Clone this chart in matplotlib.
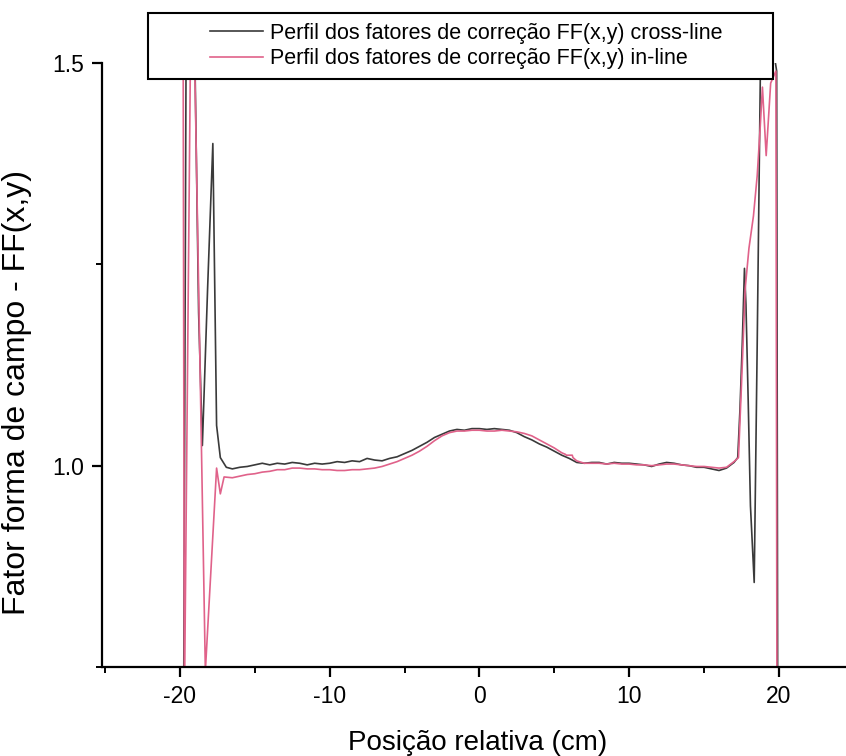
import matplotlib
matplotlib.use("Agg")
import matplotlib.pyplot as plt
from matplotlib.ticker import FixedLocator
from matplotlib.patches import Rectangle

plt.rcParams['font.family'] = ['Liberation Sans', 'DejaVu Sans']

# Perfil cross-line (posição em cm, fator FF)
cross_x = [-19.75, -19.55, -19.3, -19.15, -18.75, -18.5, -18.15, -17.8, -17.55, -17.3,
           -16.9, -16.5, -16.0, -15.5, -15.0, -14.5, -14.0, -13.5, -13.0, -12.5,
           -12.0, -11.5, -11.0, -10.5, -10.0, -9.5, -9.0, -8.5, -8.0, -7.5,
           -7.0, -6.5, -6.0, -5.5, -5.0, -4.5, -4.0, -3.5, -3.0, -2.5,
           -2.0, -1.5, -1.0, -0.5, 0.0, 0.5, 1.0, 1.5, 2.0, 2.5,
           3.0, 3.5, 4.0, 4.5, 5.0, 5.5, 6.0, 6.5, 7.0, 7.5,
           8.0, 8.5, 9.0, 9.5, 10.0, 10.5, 11.0, 11.5, 12.0, 12.5,
           13.0, 13.5, 14.0, 14.5, 15.0, 15.5, 16.0, 16.5, 17.0, 17.25,
           17.4, 17.55, 17.7, 17.8, 17.95, 18.1, 18.35, 18.55, 18.8, 19.0,
           19.3, 19.6, 19.85, 19.92]
cross_y = [0.70, 1.70, 1.55, 1.70, 1.19, 1.025, 1.22, 1.40, 1.05, 1.01,
           0.998, 0.996, 0.998, 0.999, 1.001, 1.003, 1.001, 1.003, 1.002, 1.004,
           1.003, 1.001, 1.003, 1.002, 1.003, 1.005, 1.004, 1.006, 1.005, 1.009,
           1.007, 1.006, 1.009, 1.011, 1.015, 1.019, 1.024, 1.029, 1.035, 1.039,
           1.043, 1.045, 1.044, 1.046, 1.046, 1.045, 1.046, 1.045, 1.044, 1.041,
           1.036, 1.032, 1.027, 1.023, 1.018, 1.013, 1.009, 1.004, 1.003, 1.004,
           1.004, 1.002, 1.004, 1.003, 1.003, 1.002, 1.001, 0.999, 1.002, 1.004,
           1.003, 1.001, 1.000, 0.998, 0.998, 0.996, 0.994, 0.997, 1.004, 1.01,
           1.07, 1.15, 1.245, 1.20, 1.08, 0.95, 0.855, 1.15, 1.55, 1.48,
           1.52, 1.52, 1.49, 0.70]

# Perfil in-line
in_x = [-19.8, -19.7, -19.2, -18.3, -17.55, -17.3, -17.05, -16.5, -16.0, -15.5,
        -15.0, -14.5, -14.0, -13.5, -13.0, -12.5, -12.0, -11.5, -11.0, -10.5,
        -10.0, -9.5, -9.0, -8.5, -8.0, -7.5, -7.0, -6.5, -6.0, -5.5,
        -5.0, -4.5, -4.0, -3.5, -3.0, -2.5, -2.0, -1.5, -1.0, -0.5,
        0.0, 0.5, 1.0, 1.5, 2.0, 2.5, 3.0, 3.5, 4.0, 4.5,
        5.0, 5.5, 5.75, 5.8, 6.2, 6.25, 6.5, 7.0, 7.5, 8.0,
        8.5, 9.0, 9.5, 10.0, 10.5, 11.0, 11.5, 12.0, 12.5, 13.0,
        13.5, 14.0, 14.5, 15.0, 15.5, 16.0, 16.5, 17.0, 17.3, 17.5,
        17.75, 18.0, 18.3, 18.55, 18.75, 18.9, 19.15, 19.45, 19.8, 19.87]
in_y = [1.70, 0.70, 1.70, 0.745, 0.997, 0.965, 0.986, 0.985, 0.987, 0.989,
        0.990, 0.992, 0.993, 0.995, 0.995, 0.997, 0.997, 0.996, 0.996, 0.995,
        0.995, 0.994, 0.994, 0.995, 0.995, 0.996, 0.997, 0.999, 1.002, 1.005,
        1.009, 1.013, 1.018, 1.024, 1.031, 1.037, 1.041, 1.043, 1.043, 1.044,
        1.044, 1.043, 1.043, 1.044, 1.043, 1.042, 1.040, 1.037, 1.032, 1.027,
        1.022, 1.016, 1.014, 1.013, 1.013, 1.010, 1.006, 1.003, 1.003, 1.003,
        1.002, 1.003, 1.002, 1.002, 1.001, 1.001, 1.000, 1.001, 1.002, 1.002,
        1.001, 1.000, 0.999, 0.999, 0.998, 0.997, 0.998, 1.005, 1.01, 1.10,
        1.22, 1.27, 1.31, 1.36, 1.42, 1.47, 1.385, 1.475, 1.49, 0.70]

fig = plt.figure(figsize=(8.46, 7.56), dpi=100)
ax = fig.add_axes([0.1206, 0.1177, 0.8886, 0.799])

ax.plot(cross_x, cross_y, color='#3a3a3a', lw=1.2,
        label='Perfil dos fatores de correção FF(x,y) cross-line')
ax.plot(in_x, in_y, color='#e0628a', lw=1.2,
        label='Perfil dos fatores de correção FF(x,y) in-line')

ax.set_xlim(-25.2, 25)
ax.set_ylim(0.75, 1.5)
ax.xaxis.set_major_locator(FixedLocator([-20, -10, 0, 10, 20]))
ax.xaxis.set_minor_locator(FixedLocator([-25, -15, -5, 5, 15]))
ax.yaxis.set_major_locator(FixedLocator([1.0, 1.5]))
ax.yaxis.set_minor_locator(FixedLocator([0.75, 1.25]))
ax.set_xticklabels(['-20', '-10', '0', '10', '20'])
ax.set_yticklabels(['1.0', '1.5'])

for s in ['top', 'right']:
    ax.spines[s].set_visible(False)
for s in ['left', 'bottom']:
    ax.spines[s].set_linewidth(1.6)
ax.tick_params(which='major', direction='out', length=7, width=1.6, labelsize=16.5, pad=6)
ax.tick_params(which='minor', direction='out', length=4, width=1.4)

ax.set_xlabel('Posição relativa (cm)', fontsize=20, labelpad=16)
ax.set_ylabel('Fator forma de campo - FF(x,y)', fontsize=23)
ax.yaxis.set_label_coords(-0.093, 0.455)

# caixa da legenda (mais larga que o conteúdo, como no original)
box = Rectangle((0.1749, 0.8955), 0.7388, 0.0873, transform=fig.transFigure,
                facecolor='white', edgecolor='black', lw=1.5, zorder=4)
fig.patches.append(box)
leg = fig.legend(loc='center', bbox_to_anchor=(0.5508, 0.9392), fontsize=15.5,
                 frameon=False, handlelength=2.5, labelspacing=0.2, handletextpad=0.3,
                 borderpad=0)
leg.set_zorder(5)

fig.savefig('out.png', dpi=100)
